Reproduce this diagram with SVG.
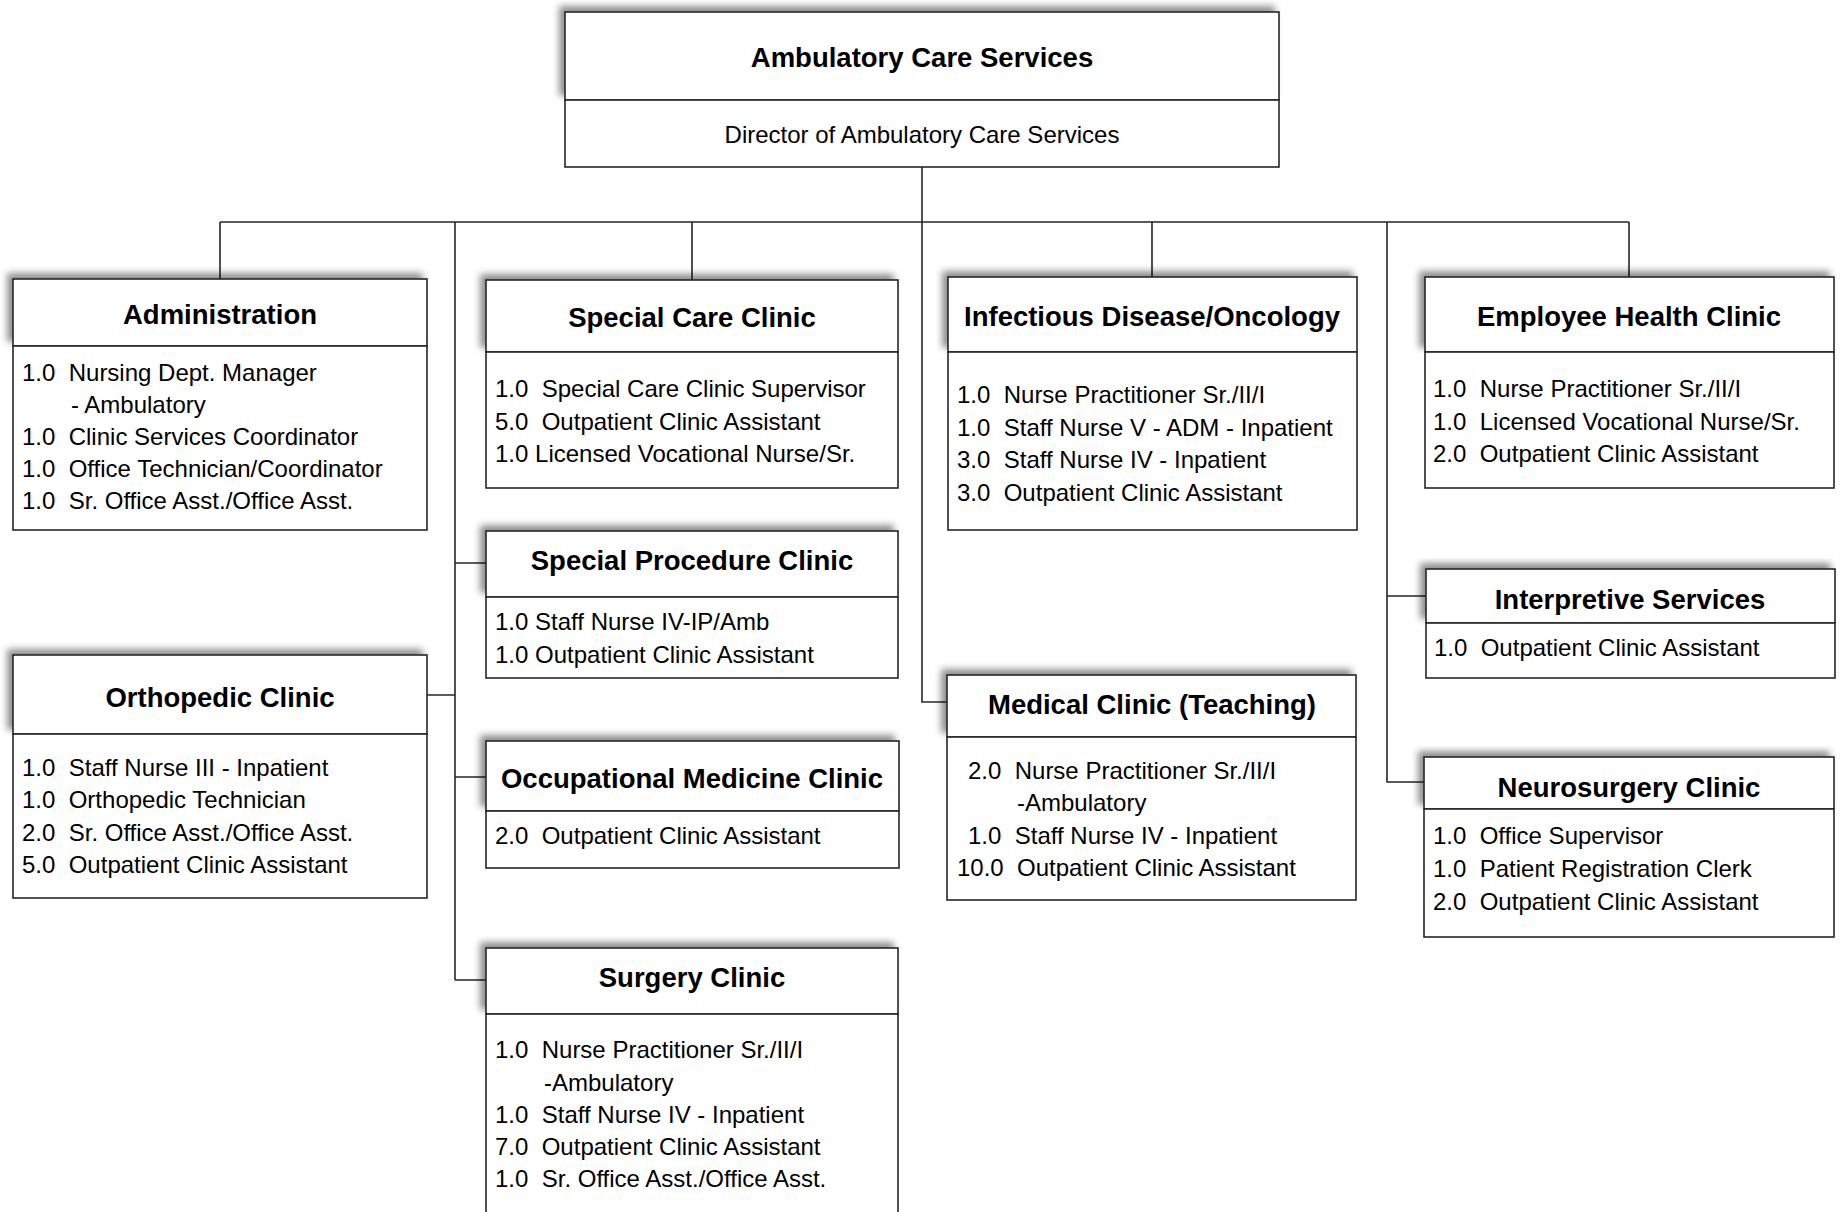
<svg xmlns="http://www.w3.org/2000/svg" width="1843" height="1212" viewBox="0 0 1843 1212">
<defs>
<style>
.bg{fill:#ffffff}
.hd{fill:#ffffff;stroke:#262626;stroke-width:1.6;filter:url(#sh)}
.bd{fill:#ffffff;stroke:#262626;stroke-width:1.6}
.ln{fill:none;stroke:#262626;stroke-width:1.6}
.h{font-family:"Liberation Sans",Arial,sans-serif;font-weight:bold;font-size:27.5px;fill:#000;text-anchor:middle}
.s{font-family:"Liberation Sans",Arial,sans-serif;font-size:24px;fill:#000;text-anchor:middle}
.t{font-family:"Liberation Sans",Arial,sans-serif;font-size:24px;fill:#000;white-space:pre}
</style>
<filter id="sh" x="-5%" y="-20%" width="110%" height="140%">
<feDropShadow dx="-5" dy="-5" stdDeviation="3.5" flood-color="#000" flood-opacity="0.45"/>
</filter>
</defs>
<rect class="bg" x="0" y="0" width="1843" height="1212"/>

<g id="connectors">
<path class="ln" d="M922 167V222M220 222H1629"/>
<path class="ln" d="M220 222V279"/>
<path class="ln" d="M455 222V980"/>
<path class="ln" d="M455 563H486M427 695H455M455 777H486M455 980H486"/>
<path class="ln" d="M692 222V280"/>
<path class="ln" d="M922 222V702H947"/>
<path class="ln" d="M1152 222V277"/>
<path class="ln" d="M1387 222V782H1424M1387 596H1426"/>
<path class="ln" d="M1629 222V277"/>
</g>

<g id="ambulatory-care-services">
<rect class="hd" x="565" y="12" width="714" height="88"/>
<rect class="bd" x="565" y="100" width="714" height="67"/>
<text class="h" x="922" y="67">Ambulatory Care Services</text>
<text class="s" x="922" y="143">Director of Ambulatory Care Services</text>
</g>

<g id="administration">
<rect class="hd" x="13" y="279" width="414" height="67"/>
<rect class="bd" x="13" y="346" width="414" height="184"/>
<text class="h" x="220" y="324">Administration</text>
<text class="t" x="22" y="381">1.0  Nursing Dept. Manager</text>
<text class="t" x="71" y="413">- Ambulatory</text>
<text class="t" x="22" y="445">1.0  Clinic Services Coordinator</text>
<text class="t" x="22" y="477">1.0  Office Technician/Coordinator</text>
<text class="t" x="22" y="509">1.0  Sr. Office Asst./Office Asst.</text>
</g>

<g id="special-care-clinic">
<rect class="hd" x="486" y="280" width="412" height="72"/>
<rect class="bd" x="486" y="352" width="412" height="136"/>
<text class="h" x="692" y="327">Special Care Clinic</text>
<text class="t" x="495" y="397">1.0  Special Care Clinic Supervisor</text>
<text class="t" x="495" y="430">5.0  Outpatient Clinic Assistant</text>
<text class="t" x="495" y="462">1.0 Licensed Vocational Nurse/Sr.</text>
</g>

<g id="special-procedure-clinic">
<rect class="hd" x="486" y="531" width="412" height="66"/>
<rect class="bd" x="486" y="597" width="412" height="81"/>
<text class="h" x="692" y="570">Special Procedure Clinic</text>
<text class="t" x="495" y="630">1.0 Staff Nurse IV-IP/Amb</text>
<text class="t" x="495" y="663">1.0 Outpatient Clinic Assistant</text>
</g>

<g id="orthopedic-clinic">
<rect class="hd" x="13" y="655" width="414" height="79"/>
<rect class="bd" x="13" y="734" width="414" height="164"/>
<text class="h" x="220" y="707">Orthopedic Clinic</text>
<text class="t" x="22" y="776">1.0  Staff Nurse III - Inpatient</text>
<text class="t" x="22" y="808">1.0  Orthopedic Technician</text>
<text class="t" x="22" y="841">2.0  Sr. Office Asst./Office Asst.</text>
<text class="t" x="22" y="873">5.0  Outpatient Clinic Assistant</text>
</g>

<g id="occupational-medicine-clinic">
<rect class="hd" x="486" y="741" width="413" height="70"/>
<rect class="bd" x="486" y="811" width="413" height="57"/>
<text class="h" x="692" y="788">Occupational Medicine Clinic</text>
<text class="t" x="495" y="844">2.0  Outpatient Clinic Assistant</text>
</g>

<g id="surgery-clinic">
<rect class="hd" x="486" y="948" width="412" height="66"/>
<rect class="bd" x="486" y="1014" width="412" height="220"/>
<text class="h" x="692" y="987">Surgery Clinic</text>
<text class="t" x="495" y="1058">1.0  Nurse Practitioner Sr./II/I</text>
<text class="t" x="544" y="1091">-Ambulatory</text>
<text class="t" x="495" y="1123">1.0  Staff Nurse IV - Inpatient</text>
<text class="t" x="495" y="1155">7.0  Outpatient Clinic Assistant</text>
<text class="t" x="495" y="1187">1.0  Sr. Office Asst./Office Asst.</text>
</g>

<g id="infectious-disease-oncology">
<rect class="hd" x="948" y="277" width="409" height="75"/>
<rect class="bd" x="948" y="352" width="409" height="178"/>
<text class="h" x="1152" y="326">Infectious Disease/Oncology</text>
<text class="t" x="957" y="403">1.0  Nurse Practitioner Sr./II/I</text>
<text class="t" x="957" y="436">1.0  Staff Nurse V - ADM - Inpatient</text>
<text class="t" x="957" y="468">3.0  Staff Nurse IV - Inpatient</text>
<text class="t" x="957" y="501">3.0  Outpatient Clinic Assistant</text>
</g>

<g id="medical-clinic-teaching">
<rect class="hd" x="947" y="675" width="409" height="62"/>
<rect class="bd" x="947" y="737" width="409" height="163"/>
<text class="h" x="1152" y="714">Medical Clinic (Teaching)</text>
<text class="t" x="968" y="779">2.0  Nurse Practitioner Sr./II/I</text>
<text class="t" x="1017" y="811">-Ambulatory</text>
<text class="t" x="968" y="844">1.0  Staff Nurse IV - Inpatient</text>
<text class="t" x="957" y="876">10.0  Outpatient Clinic Assistant</text>
</g>

<g id="employee-health-clinic">
<rect class="hd" x="1425" y="277" width="409" height="75"/>
<rect class="bd" x="1425" y="352" width="409" height="136"/>
<text class="h" x="1629" y="326">Employee Health Clinic</text>
<text class="t" x="1433" y="397">1.0  Nurse Practitioner Sr./II/I</text>
<text class="t" x="1433" y="430">1.0  Licensed Vocational Nurse/Sr.</text>
<text class="t" x="1433" y="462">2.0  Outpatient Clinic Assistant</text>
</g>

<g id="interpretive-services">
<rect class="hd" x="1426" y="569" width="409" height="54"/>
<rect class="bd" x="1426" y="623" width="409" height="55"/>
<text class="h" x="1630" y="609">Interpretive Services</text>
<text class="t" x="1434" y="656">1.0  Outpatient Clinic Assistant</text>
</g>

<g id="neurosurgery-clinic">
<rect class="hd" x="1424" y="757" width="410" height="52"/>
<rect class="bd" x="1424" y="809" width="410" height="128"/>
<text class="h" x="1629" y="797">Neurosurgery Clinic</text>
<text class="t" x="1433" y="844">1.0  Office Supervisor</text>
<text class="t" x="1433" y="877">1.0  Patient Registration Clerk</text>
<text class="t" x="1433" y="910">2.0  Outpatient Clinic Assistant</text>
</g>
</svg>
